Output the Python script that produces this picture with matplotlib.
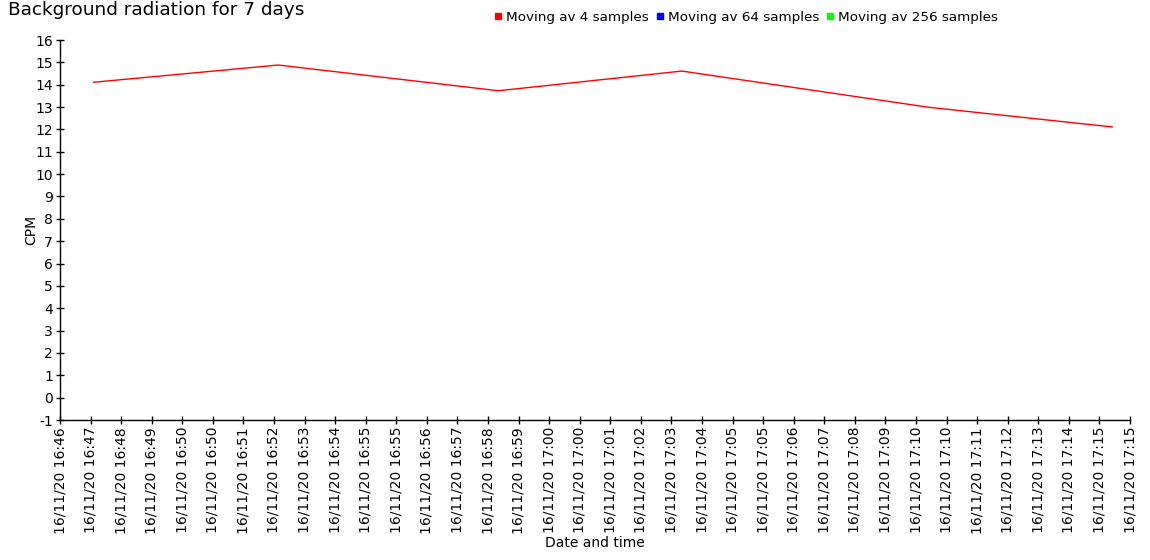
import matplotlib
matplotlib.use("Agg")
import matplotlib.pyplot as plt
import matplotlib.dates as mdates
from matplotlib.lines import Line2D
from datetime import datetime, timedelta

plt.rcParams["axes.unicode_minus"] = False

# Data
times_4 = ["2020-11-16 16:47:40", "2020-11-16 16:52:42", "2020-11-16 16:58:42",
           "2020-11-16 17:03:42", "2020-11-16 17:10:26", "2020-11-16 17:15:26"]
cpm_4 = [14.11, 14.88, 13.73, 14.61, 12.99, 12.11]
times_64 = []
cpm_64 = []
times_256 = []
cpm_256 = []

series_labels = ["Moving av 4 samples", "Moving av 64 samples", "Moving av 256 samples"]
series_colors = ["#ff0000", "#0000ff", "#00ff00"]

axis_start = "2020-11-16 16:46:45"
axis_end = "2020-11-16 17:15:55"
tick_step_seconds = 50
y_min, y_max = -1, 16

def parse(ts):
    return [datetime.strptime(t, "%Y-%m-%d %H:%M:%S") for t in ts]

fig = plt.figure(figsize=(11.5, 5.6), dpi=100)
ax = fig.add_axes([60/1150, 1 - 420/560, 1070/1150, 380/560])

for t, v, c, lab in zip([times_4, times_64, times_256], [cpm_4, cpm_64, cpm_256],
                        series_colors, series_labels):
    if t:
        ax.plot(parse(t), v, color=c, lw=1.0, label=lab)

x0 = datetime.strptime(axis_start, "%Y-%m-%d %H:%M:%S")
x1 = datetime.strptime(axis_end, "%Y-%m-%d %H:%M:%S")
ax.set_xlim(x0, x1)
ax.set_ylim(y_min, y_max)

ticks = []
t = x0
while t <= x1:
    ticks.append(t)
    t += timedelta(seconds=tick_step_seconds)
ax.set_xticks(ticks)
ax.xaxis.set_major_formatter(mdates.DateFormatter("%d/%m/%y %H:%M"))
ax.set_yticks(range(y_min, y_max + 1))

for s in ["top", "right"]:
    ax.spines[s].set_visible(False)
for s in ["left", "bottom"]:
    ax.spines[s].set_linewidth(1.0)
ax.tick_params(axis="both", direction="inout", length=6, width=1, labelsize=10, colors="black")
ax.tick_params(axis="x", labelrotation=90, pad=2)
ax.tick_params(axis="y", pad=2)

ax.set_ylabel("CPM", fontsize=10)
ax.yaxis.set_label_coords(-22/1070, 0.5)
ax.set_xlabel("Date and time", fontsize=10, labelpad=2)

fig.text(8/1150, 1 - 10/560, "Background radiation for 7 days", fontsize=13.3,
         ha="left", va="center")

handles = [Line2D([], [], ls="none", marker="s", markersize=5, color=c) for c in series_colors]
fig.legend(handles, series_labels, loc="center", bbox_to_anchor=(746/1150, 1 - 17/560),
           ncol=3, frameon=False, fontsize=9.7, handlelength=0.6, handletextpad=0.3,
           columnspacing=0.5, borderpad=0)

fig.savefig("out.png", dpi=100)
